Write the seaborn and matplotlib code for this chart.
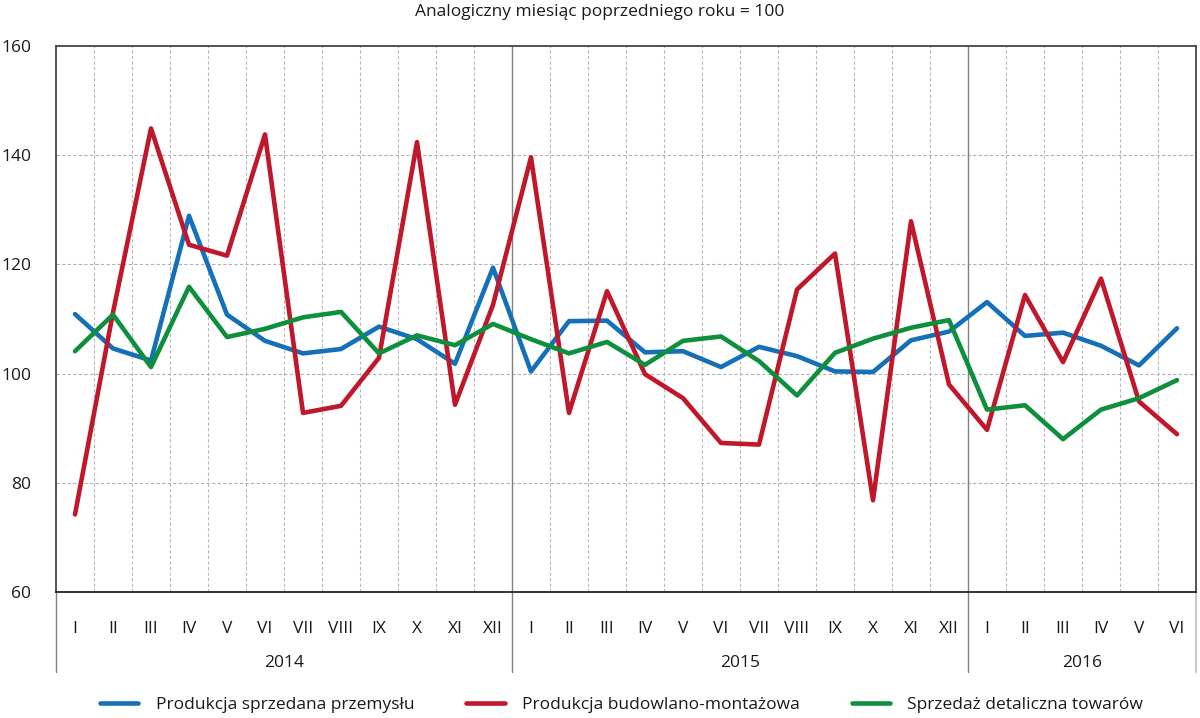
import matplotlib
matplotlib.use("Agg")
import matplotlib.pyplot as plt
import seaborn as sns
import pandas as pd
import numpy as np

months = ["I", "II", "III", "IV", "V", "VI", "VII", "VIII", "IX", "X", "XI", "XII",
          "I", "II", "III", "IV", "V", "VI", "VII", "VIII", "IX", "X", "XI", "XII",
          "I", "II", "III", "IV", "V", "VI"]
years = ["2014", "2015", "2016"]
year_lengths = [12, 12, 6]

przemysl = [110.9, 104.6, 102.4, 128.9, 110.8, 106.0, 103.7, 104.5, 108.6, 106.3, 101.8, 119.4,
            100.4, 109.6, 109.7, 103.9, 104.1, 101.2, 104.9, 103.2, 100.4, 100.3, 106.1, 107.7,
            113.1, 106.9, 107.5, 105.1, 101.5, 108.3]
budowlano = [74.2, 111.2, 144.9, 123.6, 121.6, 143.8, 92.8, 94.1, 102.9, 142.4, 94.3, 112.6,
             139.6, 92.8, 115.1, 99.9, 95.5, 87.3, 87.0, 115.4, 122.0, 76.8, 127.9, 98.0,
             89.7, 114.4, 102.1, 117.4, 94.9, 88.9]
detaliczna = [104.1, 110.8, 101.2, 115.9, 106.7, 108.2, 110.3, 111.3, 103.7, 107.0, 105.2, 109.1,
              106.3, 103.7, 105.8, 101.6, 106.0, 106.8, 102.3, 96.0, 103.8, 106.4, 108.4, 109.8,
              93.4, 94.2, 88.0, 93.4, 95.5, 98.8]

series_names = ["Produkcja sprzedana przemysłu", "Produkcja budowlano-montażowa",
                "Sprzedaż detaliczna towarów"]
colors = ["#1470b8", "#c0172b", "#0d8f3b"]

n = len(months)
df = pd.DataFrame({
    "x": list(range(n)) * 3,
    "value": przemysl + budowlano + detaliczna,
    "series": [series_names[0]] * n + [series_names[1]] * n + [series_names[2]] * n,
})

sns.set_theme(style="white")
plt.rcParams["font.family"] = ["Open Sans", "DejaVu Sans"]

FS = 12.5
TXT = "#1a1a1a"

fig = plt.figure(figsize=(12, 7.18), dpi=100)
ax = fig.add_axes([56 / 1200, 1 - 592 / 718, 1140 / 1200, 546 / 718])

sns.lineplot(data=df, x="x", y="value", hue="series", palette=colors,
             hue_order=series_names, linewidth=3.3, ax=ax, legend=False, zorder=5)

ax.set_xlim(-0.5, n - 0.5)
ax.set_ylim(60, 160)
ax.set_xlabel("")
ax.set_ylabel("")

# y axis
ax.set_yticks([60, 80, 100, 120, 140, 160])
ax.tick_params(axis="y", length=0, pad=18, labelsize=FS, labelcolor=TXT)
for y in [80, 100, 120, 140]:
    ax.axhline(y, color="#b0b0b0", linestyle=(0, (3, 2)), linewidth=0.8, zorder=1)

# x axis month labels
ax.set_xticks(range(n))
ax.set_xticklabels(months)
ax.tick_params(axis="x", length=0, pad=21, labelsize=FS, labelcolor=TXT)

# vertical dashed separators between months
for k in range(1, n):
    if k in (12, 24):
        continue
    ax.axvline(k - 0.5, color="#b8b8b8", linestyle=(0, (3, 2)), linewidth=0.8, zorder=1)

# year separators extending below axis
ext = -80 / 546
for k in (12, 24):
    ax.axvline(k - 0.5, ymin=ext, ymax=1, color="#808080", linewidth=1.0,
               clip_on=False, zorder=2)
ax.axvline(-0.5, ymin=ext, ymax=0, color="#808080", linewidth=1.0, clip_on=False)
ax.axvline(n - 0.5, ymin=ext, ymax=0, color="#c8c8c8", linewidth=1.5, clip_on=False)

# year labels
start = 0
for yname, ln in zip(years, year_lengths):
    center = start + (ln - 1) / 2
    ax.text(center, -71 / 546, yname, transform=ax.get_xaxis_transform(),
            ha="center", va="center", fontsize=FS, color=TXT)
    start += ln

for side in ["left", "right", "top", "bottom"]:
    ax.spines[side].set_visible(True)
    ax.spines[side].set_color("#444444")
    ax.spines[side].set_linewidth(1.3)
ax.spines["bottom"].set_color("#222222")

# title
fig.text(0.5, 1 - 12 / 718, "Analogiczny miesiąc poprzedniego roku = 100",
         ha="center", va="center", fontsize=12.5, color=TXT)

# legend
handles = [plt.Line2D([0], [0], color=c, linewidth=3.3, solid_capstyle="round") for c in colors]
fig.legend(handles, series_names, loc="center", bbox_to_anchor=(0.518, 1 - 705 / 718),
           ncol=3, frameon=False, fontsize=FS, handlelength=2.2, handletextpad=1.0,
           columnspacing=3.0, labelcolor=TXT)

fig.savefig("out.png", dpi=100)
